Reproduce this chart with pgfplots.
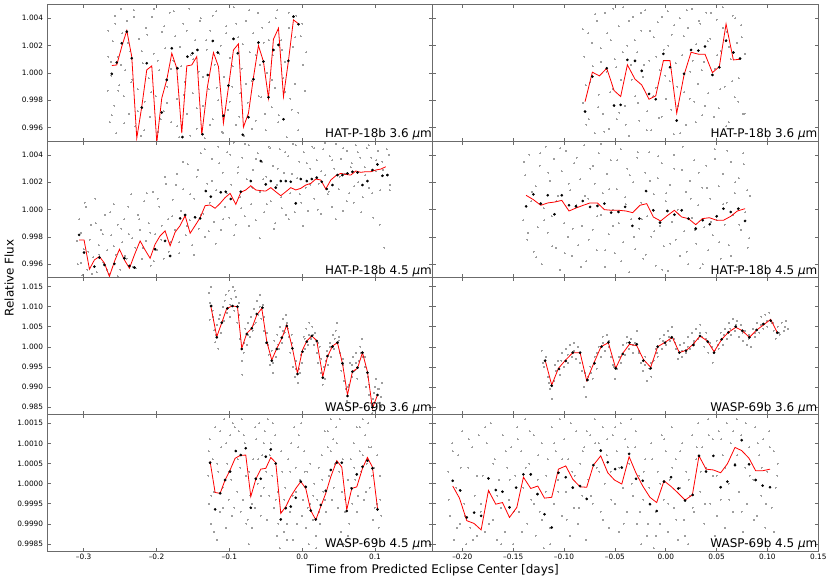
\documentclass[border=0pt]{standalone}
\usepackage{fontspec}
\setmainfont{DejaVu Sans}
\usepackage{pgfplots}
\pgfplotsset{compat=1.18}
\definecolor{spine}{gray}{0.42}
\definecolor{dotgray}{gray}{0.62}
\pgfplotsset{
  panel/.style={
    scale only axis, width=385.5bp, height=136.6bp,
    axis line style={spine, line width=0.9bp},
    every tick/.style={spine, line width=0.6bp},
    major tick length=3.5bp, tick align=inside,
    clip mode=individual,
    ticklabel style={font=\fontsize{7.4}{9}\selectfont, text=black},
    yticklabel style={inner sep=0pt, xshift=-4bp},
    xticklabel style={inner sep=0pt, yshift=-2.5bp},
    scaled ticks=false,
  },
  leftcol/.style={xmin=-0.350, xmax=0.1795, xtick={-0.3,-0.2,-0.1,0,0.1}},
  rightcol/.style={xmin=-0.229, xmax=0.15, xtick={-0.2,-0.15,-0.1,-0.05,0,0.05,0.1,0.15}},
  rowA/.style={ymin=0.995, ymax=1.005, ytick={0.996,0.998,1.000,1.002,1.004}},
  rowC/.style={ymin=0.98315, ymax=1.01722, ytick={0.985,0.990,0.995,1.000,1.005,1.010,1.015}},
  rowD/.style={ymin=0.998326, ymax=1.00172, ytick={0.9985,0.999,0.9995,1.0,1.0005,1.001,1.0015}},
  gpts/.style={only marks, color=dotgray, mark=*, mark size=0.5bp, mark options={draw=dotgray, fill=dotgray, line width=0pt}},
  bpts/.style={only marks, color=black, mark=*, mark size=1.15bp, mark options={draw=none, fill=black}},
  model/.style={red, line width=0.8bp, mark=none},
}
\newcommand{\plabel}[1]{\node[anchor=base east, inner sep=0pt, font=\fontsize{12}{14}\selectfont] at ([xshift=-0.8bp,yshift=3.3bp]rel axis cs:1,0) {#1};}
\begin{document}
\begin{tikzpicture}
% ---------------- Row 1 left: HAT-P-18b 3.6
\begin{axis}[panel, leftcol, rowA, at={(47.3bp,-4.6bp)}, anchor=north west,
  xticklabels={}, yticklabels={0.996,0.998,1.000,1.002,1.004}]
\addplot[gpts] coordinates {
(-0.267,0.99870) (-0.266,1.00310) (-0.264,0.99640) (-0.263,1.00080) (-0.262,0.99980) (-0.260,1.00230) (-0.258,0.99760) (-0.257,1.00420)
(-0.255,0.99560) (-0.253,1.00120) (-0.251,0.99910) (-0.249,1.00470) (-0.247,1.00290) (-0.245,0.99830) (-0.243,1.00020) (-0.240,1.00380)
(-0.238,0.99700) (-0.236,1.00160) (-0.233,0.99950) (-0.231,1.00460) (-0.229,0.99610) (-0.226,0.99880) (-0.224,1.00250) (-0.221,0.99540)
(-0.219,1.00070) (-0.216,0.99790) (-0.214,1.00330) (-0.211,0.99960) (-0.209,0.99680) (-0.206,1.00410) (-0.204,1.00140) (-0.201,0.99830)
(-0.198,0.99570) (-0.196,1.00020) (-0.193,1.00300) (-0.190,0.99720) (-0.188,1.00180) (-0.185,0.99900) (-0.182,1.00440) (-0.180,0.99640)
(-0.177,1.00090) (-0.174,1.00270) (-0.172,0.99810) (-0.169,0.99530) (-0.166,1.00050) (-0.163,1.00360) (-0.161,0.99930) (-0.158,0.99700)
(-0.155,1.00470) (-0.153,1.00130) (-0.150,0.99850) (-0.147,1.00240) (-0.145,0.99590) (-0.142,1.00010) (-0.139,1.00400) (-0.136,0.99760)
(-0.134,0.99520) (-0.131,1.00170) (-0.128,0.99880) (-0.126,1.00310) (-0.123,0.99660) (-0.120,1.00060) (-0.118,1.00450) (-0.115,0.99800)
(-0.112,1.00200) (-0.110,0.99570) (-0.107,0.99970) (-0.104,1.00340) (-0.102,0.99730) (-0.099,1.00110) (-0.096,0.99900) (-0.094,1.00480)
(-0.091,0.99620) (-0.088,1.00260) (-0.085,0.99850) (-0.083,1.00030) (-0.080,0.99540) (-0.077,1.00380) (-0.075,0.99780) (-0.072,1.00150)
(-0.069,0.99940) (-0.067,1.00290) (-0.064,0.99650) (-0.061,1.00440) (-0.058,1.00060) (-0.056,0.99820) (-0.053,1.00220) (-0.050,0.99580)
(-0.048,1.00000) (-0.045,1.00370) (-0.042,0.99750) (-0.040,1.00130) (-0.037,0.99890) (-0.034,1.00460) (-0.032,0.99690) (-0.029,1.00240)
(-0.026,0.99960) (-0.024,1.00080) (-0.021,0.99530) (-0.018,1.00330) (-0.016,0.99810) (-0.013,1.00190) (-0.010,0.99920) (-0.008,1.00420)
(-0.005,0.99710) (-0.002,1.00270) (0.001,1.00060) (0.004,0.99870) (0.006,1.00150)
};
\addplot[gpts] coordinates {
(-0.2665,1.0012) (-0.2615,0.9969) (-0.2565,1.0036) (-0.2525,0.9987) (-0.2485,1.0006) (-0.2445,0.9963) (-0.2395,1.0022) (-0.2345,0.9993)
(-0.2305,1.0041) (-0.2255,0.9972) (-0.2205,1.0016) (-0.2165,0.9958) (-0.2125,1.0028) (-0.2075,0.9986) (-0.2035,1.0047) (-0.1985,1.0009)
(-0.1945,0.9966) (-0.1895,1.0034) (-0.1855,0.9978) (-0.1805,1.0003) (-0.1765,1.0045) (-0.1715,0.9961) (-0.1675,1.0019) (-0.1625,0.9984)
(-0.1585,1.0031) (-0.1535,0.9954) (-0.1495,1.0010) (-0.1445,0.9974) (-0.1405,1.0038) (-0.1355,0.9997) (-0.1315,1.0024) (-0.1265,0.9962)
(-0.1225,1.0042) (-0.1175,0.9989) (-0.1135,1.0014) (-0.1085,0.9956) (-0.1045,1.0029) (-0.0995,0.9979) (-0.0955,1.0005) (-0.0905,1.0036)
(-0.0865,0.9968) (-0.0815,1.0021) (-0.0775,0.9992) (-0.0725,1.0046) (-0.0685,0.9959) (-0.0635,1.0013) (-0.0595,0.9983) (-0.0545,1.0033)
(-0.0505,0.9970) (-0.0455,1.0024) (-0.0415,0.9995) (-0.0365,1.0040) (-0.0325,0.9964) (-0.0275,1.0017) (-0.0235,0.9986) (-0.0185,1.0044)
(-0.0145,0.9973) (-0.0095,1.0026) (-0.0055,0.9958) (0.0005,1.0036)
};
\addplot[model] coordinates {
(-0.2614,1.00054) (-0.2546,1.00058) (-0.2477,1.00193) (-0.2408,1.0031) (-0.2340,1.00119) (-0.2271,0.99522) (-0.2202,0.99754)
(-0.2134,1.00022) (-0.2065,1.00051) (-0.1996,0.9949) (-0.1928,0.99815) (-0.1859,0.99949) (-0.1790,1.00144) (-0.1722,1.00034)
(-0.1653,0.99559) (-0.1584,1.00051) (-0.1516,1.00058) (-0.1447,1.00119) (-0.1378,0.99547) (-0.1300,0.9990) (-0.1218,1.00149)
(-0.1149,1.00046) (-0.1081,0.99632) (-0.1012,0.99895) (-0.0943,1.00168) (-0.0875,1.00212) (-0.0806,0.99603) (-0.0737,0.99705)
(-0.0668,0.99968) (-0.0600,1.0020) (-0.0531,1.00083) (-0.0462,0.99815) (-0.0394,1.00246) (-0.0325,1.00327) (-0.0256,0.99827)
(-0.0188,1.00088) (-0.0119,1.00388) (-0.0041,1.00356)
};
\addplot[bpts] coordinates {
(-0.2614,0.99993) (-0.2546,1.00076) (-0.2477,1.00217) (-0.2408,1.00302) (-0.2340,1.00107) (-0.2202,0.99746) (-0.2134,1.00071)
(-0.1928,0.9971) (-0.1859,0.99949) (-0.1790,1.0018) (-0.1713,1.00034) (-0.1644,0.9953) (-0.1575,1.00119) (-0.1506,1.00144)
(-0.1438,1.00168) (-0.1369,0.99551) (-0.1296,0.99985) (-0.1227,1.00234) (-0.1158,1.00149) (-0.1081,0.99686) (-0.1012,0.99907)
(-0.0943,1.00249) (-0.0884,1.00144) (-0.0815,0.99547) (-0.0737,0.99676) (-0.0668,0.99954) (-0.0600,1.00222) (-0.0531,1.00083)
(-0.0462,0.99822) (-0.0394,1.00168) (-0.0325,1.00205) (-0.0256,0.99661) (-0.0188,1.00088) (-0.0119,1.00412) (-0.0050,1.00356)
};
\plabel{HAT-P-18b 3.6 \textit{μ}m}
\end{axis}
% ---------------- Row 1 right
\begin{axis}[panel, rightcol, rowA, at={(432.8bp,-4.6bp)}, anchor=north west,
  xticklabels={}, yticklabels={}]
\addplot[gpts] coordinates {
(-0.081,0.99780) (-0.080,1.00120) (-0.078,0.99620) (-0.076,1.00290) (-0.074,0.99930) (-0.072,1.00050) (-0.070,0.99560) (-0.068,1.00380)
(-0.066,0.99840) (-0.064,1.00180) (-0.062,0.99700) (-0.060,1.00440) (-0.058,1.00010) (-0.056,0.99590) (-0.054,1.00240) (-0.052,0.99880)
(-0.050,1.00100) (-0.048,0.99660) (-0.046,1.00340) (-0.044,0.99950) (-0.042,1.00480) (-0.040,0.99760) (-0.038,1.00200) (-0.036,0.99540)
(-0.034,1.00060) (-0.032,1.00410) (-0.030,0.99830) (-0.028,1.00150) (-0.026,0.99650) (-0.024,1.00310) (-0.022,0.99970) (-0.020,1.00460)
(-0.018,0.99720) (-0.016,1.00090) (-0.014,0.99580) (-0.012,1.00260) (-0.010,0.99890) (-0.008,1.00370) (-0.006,1.00020) (-0.004,0.99680)
(-0.002,1.00170) (0.000,0.99810) (0.002,1.00450) (0.004,0.99940) (0.006,1.00280) (0.008,0.99550) (0.010,1.00070) (0.012,0.99760)
(0.014,1.00400) (0.016,1.00130) (0.018,0.99860) (0.020,0.99620) (0.022,1.00330) (0.024,1.00010) (0.026,1.00470) (0.028,0.99790)
(0.030,1.00210) (0.032,0.99920) (0.034,1.00360) (0.036,0.99690) (0.038,1.00080) (0.040,1.00440) (0.042,0.99850) (0.044,1.00250)
(0.046,0.99580) (0.048,1.00030) (0.050,1.00390) (0.052,0.99740) (0.054,1.00160) (0.056,1.00480) (0.058,0.99900) (0.060,1.00300)
(0.062,0.99640) (0.064,1.00100) (0.066,1.00420) (0.068,0.99820) (0.070,1.00220) (0.072,0.99960) (0.074,1.00350) (0.076,0.99700)
(0.078,1.00140)
};
\addplot[gpts] coordinates {
(-0.0815,1.0032) (-0.0785,0.9991) (-0.0755,0.9966) (-0.0725,1.0022) (-0.0695,1.0043) (-0.0665,0.9975) (-0.0635,1.0008) (-0.0605,0.9957)
(-0.0575,1.0029) (-0.0545,0.9986) (-0.0515,1.0047) (-0.0485,1.0004) (-0.0455,0.9971) (-0.0425,1.0015) (-0.0395,0.9962) (-0.0365,1.0038)
(-0.0335,0.9995) (-0.0305,1.0024) (-0.0275,0.9978) (-0.0245,1.0044) (-0.0215,1.0006) (-0.0185,0.9958) (-0.0155,1.0031) (-0.0125,0.9983)
(-0.0095,1.0012) (-0.0065,0.9967) (-0.0035,1.0041) (-0.0005,0.9998) (0.0025,1.0020) (0.0055,0.9973) (0.0085,1.0035) (0.0115,0.9990)
(0.0145,0.9956) (0.0175,1.0027) (0.0205,1.0046) (0.0235,0.9981) (0.0265,1.0009) (0.0295,0.9964) (0.0325,1.0038) (0.0355,1.0002)
(0.0385,0.9976) (0.0415,1.0023) (0.0445,1.0044) (0.0475,0.9968) (0.0505,1.0013) (0.0535,0.9988) (0.0565,1.0033) (0.0595,0.9961)
(0.0625,1.0019) (0.0655,0.9994) (0.0685,1.0040) (0.0715,0.9979) (0.0745,1.0026) (0.0775,0.9970)
};
\addplot[model] coordinates {
(-0.0793,0.9979) (-0.0721,1.00005) (-0.0652,0.99978) (-0.0580,1.00034) (-0.0508,0.99871) (-0.0443,0.99827) (-0.0377,1.00059)
(-0.0302,0.99954) (-0.0236,0.99912) (-0.0164,0.99807) (-0.0098,0.99832) (-0.0023,1.0009) (0.0042,1.0009) (0.0108,0.99705)
(0.0180,0.99985) (0.0249,1.00151) (0.0321,1.00137) (0.0386,1.00137) (0.0459,1.00002) (0.0527,1.00046) (0.0593,1.00358)
(0.0665,1.00095) (0.0731,1.001)
};
\addplot[bpts] coordinates {
(-0.0793,0.99717) (-0.0721,0.99973) (-0.0580,1.00034) (-0.0508,0.99761) (-0.0443,0.99766) (-0.0377,1.00095) (-0.0302,1.00088)
(-0.0236,1.00015) (-0.0164,0.99846) (-0.0098,0.99807) (-0.0023,1.00139) (0.0042,1.00041) (0.0108,0.99651) (0.0180,0.99993)
(0.0249,1.00168) (0.0321,1.00163) (0.0386,1.00193) (0.0459,0.99985) (0.0527,1.00041) (0.0593,1.00236) (0.0665,1.00149)
(0.0731,1.00105)
};
\plabel{HAT-P-18b 3.6 \textit{μ}m}
\end{axis}
% ---------------- Row 2 left: HAT-P-18b 4.5
\begin{axis}[panel, leftcol, rowA, at={(47.3bp,-141.2bp)}, anchor=north west,
  xticklabels={}, yticklabels={0.996,0.998,1.000,1.002,1.004}]
\addplot[gpts] coordinates {
(-0.308,0.99600) (-0.306,0.99930) (-0.304,0.99830) (-0.302,0.99520) (-0.300,0.99710) (-0.297,1.00020) (-0.295,0.99560) (-0.292,0.99780)
(-0.290,0.99890) (-0.287,0.99650) (-0.284,1.00080) (-0.282,0.99540) (-0.279,0.99740) (-0.276,0.99850) (-0.273,0.99610) (-0.271,0.99960)
(-0.268,0.99700) (-0.265,0.99530) (-0.262,0.99810) (-0.259,1.00040) (-0.256,0.99670) (-0.253,0.99890) (-0.250,0.99560) (-0.247,0.99760)
(-0.244,0.99930) (-0.241,0.99640) (-0.238,0.99820) (-0.235,1.00110) (-0.232,0.99580) (-0.229,0.99720) (-0.226,0.99960) (-0.223,0.99850)
(-0.220,0.99640) (-0.217,1.00060) (-0.214,0.99770) (-0.211,0.99900) (-0.208,0.99590) (-0.205,1.00130) (-0.202,0.99820) (-0.199,0.99700)
(-0.196,1.00020) (-0.193,0.99880) (-0.190,0.99640) (-0.187,1.00190) (-0.184,0.99930) (-0.181,0.99760) (-0.178,1.00070) (-0.175,0.99850)
(-0.172,1.00260) (-0.169,0.99680) (-0.166,0.99990) (-0.163,1.00150) (-0.160,0.99810) (-0.157,1.00330) (-0.154,0.99920) (-0.151,0.99740)
(-0.148,1.00080) (-0.145,1.00240) (-0.142,0.99860) (-0.139,1.00410) (-0.136,0.99970) (-0.133,0.99800) (-0.130,1.00190) (-0.127,1.00050)
(-0.124,1.00370) (-0.121,0.99910) (-0.118,1.00140) (-0.115,1.00460) (-0.112,0.99850) (-0.109,1.00270) (-0.106,1.00020) (-0.103,1.00420)
(-0.100,0.99940) (-0.097,1.00180) (-0.094,1.00490) (-0.091,0.99890) (-0.088,1.00310) (-0.085,1.00090) (-0.082,1.00380) (-0.079,0.99950)
(-0.076,1.00220) (-0.073,1.00470) (-0.070,1.00040) (-0.067,1.00290) (-0.064,0.99920) (-0.061,1.00410) (-0.058,1.00130) (-0.055,1.00350)
(-0.052,0.99980) (-0.049,1.00240) (-0.046,1.00460) (-0.043,1.00060) (-0.040,1.00320) (-0.037,0.99900) (-0.034,1.00180) (-0.031,1.00440)
(-0.028,1.00010) (-0.025,1.00270) (-0.022,0.99960) (-0.019,1.00390) (-0.016,1.00120) (-0.013,1.00480) (-0.010,0.99980) (-0.007,1.00230)
(-0.004,1.00350) (-0.001,1.00050) (0.002,1.00420) (0.005,1.00160) (0.008,0.99990) (0.011,1.00300) (0.014,1.00460) (0.017,1.00080)
(0.020,1.00360) (0.023,1.00190) (0.026,0.99970) (0.029,1.00440) (0.032,1.00250) (0.035,1.00110) (0.038,1.00390) (0.041,1.00020)
(0.044,1.00300) (0.047,1.00480) (0.050,1.00150) (0.053,1.00370) (0.056,0.99990) (0.059,1.00260) (0.062,1.00430) (0.065,1.00120)
(0.068,1.00340) (0.071,1.00050) (0.074,1.00470) (0.077,1.00200) (0.080,1.00380) (0.083,1.00090) (0.086,1.00310) (0.089,1.00450)
(0.092,1.00160) (0.095,1.00380) (0.098,0.99940) (0.101,1.00280) (0.104,1.00430) (0.107,1.00140) (0.110,1.00350) (0.113,0.99720)
(0.116,1.00250) (0.119,1.00400) (0.121,1.00180)
};
\addplot[gpts] coordinates {
(-0.3095,0.9977) (-0.3035,0.9961) (-0.2985,1.0005) (-0.2935,0.9969) (-0.2885,0.9953) (-0.2835,0.9990) (-0.2785,0.9967) (-0.2735,0.9982)
(-0.2685,0.9956) (-0.2635,0.9998) (-0.2585,0.9973) (-0.2535,0.9951) (-0.2485,0.9986) (-0.2435,0.9966) (-0.2385,1.0002) (-0.2335,0.9979)
(-0.2285,0.9957) (-0.2235,0.9993) (-0.2185,0.9972) (-0.2135,1.0012) (-0.2085,0.9983) (-0.2035,0.9962) (-0.1985,1.0008) (-0.1935,0.9978)
(-0.1885,1.0024) (-0.1835,0.9969) (-0.1785,0.9995) (-0.1735,1.0018) (-0.1685,0.9976) (-0.1635,1.0035) (-0.1585,0.9988) (-0.1535,1.0011)
(-0.1485,0.9967) (-0.1435,1.0029) (-0.1385,0.9996) (-0.1335,1.0044) (-0.1285,0.9984) (-0.1235,1.0021) (-0.1185,0.9975) (-0.1135,1.0034)
(-0.1085,0.9993) (-0.1035,1.0012) (-0.0985,1.0040) (-0.0935,0.9981) (-0.0885,1.0027) (-0.0835,1.0001) (-0.0785,1.0048) (-0.0735,0.9988)
(-0.0685,1.0016) (-0.0635,1.0037) (-0.0585,0.9979) (-0.0535,1.0022) (-0.0485,1.0004) (-0.0435,1.0045) (-0.0385,0.9986) (-0.0335,1.0030)
(-0.0285,1.0009) (-0.0235,1.0042) (-0.0185,0.9993) (-0.0135,1.0026) (-0.0085,1.0047) (-0.0035,1.0011) (0.0015,0.9988) (0.0065,1.0034)
(0.0115,1.0018) (0.0165,1.0045) (0.0215,1.0000) (0.0265,1.0028) (0.0315,1.0049) (0.0365,1.0013) (0.0415,1.0036) (0.0465,0.9993)
(0.0515,1.0024) (0.0565,1.0045) (0.0615,1.0006) (0.0665,1.0031) (0.0715,1.0017) (0.0765,1.0042) (0.0815,0.9998) (0.0865,1.0025)
(0.0915,1.0047) (0.0965,1.0012) (0.1015,1.0036) (0.1065,0.9989) (0.1115,1.0029) (0.1165,1.0044) (0.1205,1.0014)
};
\addplot[model] coordinates {
(-0.3063,0.99777) (-0.2995,0.99777) (-0.2921,0.99563) (-0.2853,0.99631) (-0.2784,0.99656) (-0.2715,0.99607) (-0.2647,0.9951)
(-0.2578,0.99619) (-0.2509,0.99709) (-0.2441,0.99631) (-0.2372,0.9957) (-0.2303,0.99668) (-0.2225,0.9977) (-0.2157,0.99704)
(-0.2088,0.99643) (-0.2019,0.99746) (-0.1951,0.99807) (-0.1882,0.99843) (-0.1813,0.99734) (-0.1745,0.99833) (-0.1676,0.99882)
(-0.1607,0.99955) (-0.1538,0.99826) (-0.1470,0.99882) (-0.1401,0.99940) (-0.1332,1.00028) (-0.1264,1.00033) (-0.1195,1.00009)
(-0.1126,1.00045) (-0.1058,1.00087) (-0.0989,1.00118) (-0.0911,1.00038) (-0.0842,1.00126) (-0.0774,1.00143) (-0.0705,1.00174)
(-0.0636,1.00143) (-0.0568,1.00138) (-0.0499,1.00135) (-0.0430,1.0016) (-0.0362,1.0013) (-0.0293,1.00101) (-0.0224,1.0013)
(-0.0156,1.0016) (-0.0087,1.00143) (-0.0018,1.00155) (0.0050,1.00179) (0.0119,1.00191) (0.0188,1.00223) (0.0256,1.00216)
(0.0325,1.0015) (0.0394,1.00216) (0.0462,1.00247) (0.0531,1.00264) (0.0600,1.00257) (0.0668,1.00252) (0.0737,1.00282)
(0.0806,1.00272) (0.0874,1.00277) (0.0943,1.00277) (0.1012,1.00289) (0.1081,1.00296) (0.1149,1.00313)
};
\addplot[bpts] coordinates {
(-0.3063,0.99814) (-0.2995,0.99685) (-0.2853,0.99582) (-0.2784,0.99648) (-0.2715,0.99594) (-0.2578,0.99602) (-0.2441,0.99643)
(-0.2372,0.99587) (-0.2303,0.99575) (-0.2019,0.99709) (-0.1882,0.9977) (-0.1813,0.9966) (-0.1676,0.99935) (-0.1607,0.9996)
(-0.1470,0.99943) (-0.1401,0.99935) (-0.1323,1.00135) (-0.1254,1.00094) (-0.1117,1.00126) (-0.1049,1.0013) (-0.0980,1.00077)
(-0.0842,1.0013) (-0.0705,1.00208) (-0.0568,1.00355) (-0.0499,1.00184) (-0.0430,1.00208) (-0.0362,1.0016) (-0.0293,1.00208)
(-0.0224,1.00208) (-0.0156,1.00203) (-0.0087,1.00045) (-0.0018,1.00223) (0.0064,1.00208) (0.0133,1.00223) (0.0201,1.00233)
(0.0270,1.00203) (0.0339,1.0015) (0.0417,1.00179) (0.0485,1.00252) (0.0554,1.00252) (0.0623,1.00264) (0.0691,1.00276)
(0.0760,1.00271) (0.0829,1.00179) (0.0897,1.00208) (0.0966,1.00289) (0.1035,1.0033) (0.1103,1.00247) (0.1172,1.00252)
};
\plabel{HAT-P-18b 4.5 \textit{μ}m}
\end{axis}
% ---------------- Row 2 right
\begin{axis}[panel, rightcol, rowA, at={(432.8bp,-141.2bp)}, anchor=north west,
  xticklabels={}, yticklabels={}]
\addplot[gpts] coordinates {
(-0.140,0.99920) (-0.138,1.00250) (-0.136,0.99780) (-0.134,1.00400) (-0.132,1.00060) (-0.130,0.99690) (-0.128,1.00170) (-0.126,0.99870)
(-0.124,1.00320) (-0.122,0.99600) (-0.120,1.00010) (-0.118,1.00460) (-0.116,0.99830) (-0.114,1.00210) (-0.112,0.99950) (-0.110,1.00370)
(-0.108,0.99720) (-0.106,1.00100) (-0.104,0.99560) (-0.102,1.00280) (-0.100,0.99900) (-0.098,1.00430) (-0.096,0.99800) (-0.094,1.00140)
(-0.092,0.99660) (-0.090,1.00340) (-0.088,1.00030) (-0.086,0.99740) (-0.084,1.00220) (-0.082,0.99880) (-0.080,1.00470) (-0.078,0.99620)
(-0.076,1.00080) (-0.074,1.00300) (-0.072,0.99850) (-0.070,1.00190) (-0.068,0.99700) (-0.066,1.00410) (-0.064,0.99960) (-0.062,1.00120)
(-0.060,0.99580) (-0.058,1.00260) (-0.056,0.99820) (-0.054,1.00360) (-0.052,1.00000) (-0.050,0.99680) (-0.048,1.00150) (-0.046,0.99900)
(-0.044,1.00440) (-0.042,0.99760) (-0.040,1.00090) (-0.038,1.00300) (-0.036,0.99540) (-0.034,0.99930) (-0.032,1.00200) (-0.030,0.99710)
(-0.028,1.00380) (-0.026,0.99860) (-0.024,1.00050) (-0.022,0.99640) (-0.020,1.00270) (-0.018,0.99950) (-0.016,1.00420) (-0.014,0.99800)
(-0.012,1.00110) (-0.010,0.99590) (-0.008,1.00230) (-0.006,0.99880) (-0.004,1.00340) (-0.002,0.99730) (0.000,1.00060) (0.002,0.99550)
(0.004,1.00180) (0.006,0.99910) (0.008,1.00400) (0.010,0.99780) (0.012,1.00000) (0.014,0.99660) (0.016,1.00290) (0.018,0.99840)
(0.020,1.00130) (0.022,0.99600) (0.024,1.00210) (0.026,0.99940) (0.028,1.00360) (0.030,0.99750) (0.032,1.00030) (0.034,0.99570)
(0.036,1.00160) (0.038,0.99870) (0.040,1.00320) (0.042,0.99700) (0.044,1.00080) (0.046,0.99810) (0.048,1.00440) (0.050,0.99920)
(0.052,1.00170) (0.054,0.99640) (0.056,1.00260) (0.058,0.99890) (0.060,1.00050) (0.062,0.99740) (0.064,1.00350) (0.066,0.99960)
(0.068,1.00120) (0.070,0.99580) (0.072,1.00230) (0.074,0.99850) (0.076,1.00410) (0.078,0.99980) (0.080,1.00140) (0.082,0.99790)
};
\addplot[gpts] coordinates {
(-0.1395,1.0035) (-0.1355,0.9983) (-0.1315,1.0013) (-0.1275,0.9965) (-0.1235,1.0041) (-0.1195,0.9992) (-0.1155,1.0027) (-0.1115,0.9973)
(-0.1075,1.0006) (-0.1035,1.0045) (-0.0995,0.9968) (-0.0955,1.0019) (-0.0915,0.9986) (-0.0875,1.0038) (-0.0835,0.9958) (-0.0795,1.0010)
(-0.0755,0.9978) (-0.0715,1.0032) (-0.0675,0.9995) (-0.0635,1.0048) (-0.0595,0.9970) (-0.0555,1.0015) (-0.0515,0.9988) (-0.0475,1.0036)
(-0.0435,0.9962) (-0.0395,1.0004) (-0.0355,1.0025) (-0.0315,0.9980) (-0.0275,1.0042) (-0.0235,0.9993) (-0.0195,0.9967) (-0.0155,1.0021)
(-0.0115,0.9984) (-0.0075,1.0039) (-0.0035,0.9956) (0.0005,1.0012) (0.0045,0.9975) (0.0085,1.0030) (0.0125,0.9997) (0.0165,1.0046)
(0.0205,0.9969) (0.0245,1.0008) (0.0285,0.9985) (0.0325,1.0027) (0.0365,0.9960) (0.0405,1.0016) (0.0445,0.9991) (0.0485,1.0037)
(0.0525,0.9976) (0.0565,1.0004) (0.0605,1.0043) (0.0645,0.9966) (0.0685,1.0020) (0.0725,0.9989) (0.0765,1.0033) (0.0805,0.9972)
(0.0830,1.0010)
};
\addplot[model] coordinates {
(-0.1373,1.00104) (-0.1301,1.00072) (-0.1229,1.00031) (-0.1160,1.00048) (-0.1088,1.00055) (-0.1022,1.00067) (-0.0951,0.99989)
(-0.0882,1.00011) (-0.0810,1.00031) (-0.0744,1.00048) (-0.0672,1.00048) (-0.0603,0.99999) (-0.0531,0.99994) (-0.0459,0.99994)
(-0.0390,0.99989) (-0.0325,0.99977) (-0.0253,1.00031) (-0.0187,1.00043) (-0.0122,0.99945) (-0.0050,0.99916) (0.0020,0.99958)
(0.0085,0.99994) (0.0157,0.99945) (0.0223,0.99933) (0.0295,0.99889) (0.0360,0.99933) (0.0429,0.9994) (0.0501,0.99921)
(0.0567,0.99921) (0.0639,0.9995) (0.0704,0.99989) (0.0780,1.00006)
};
\addplot[bpts] coordinates {
(-0.1373,1.00023) (-0.1301,1.00111) (-0.1229,1.00043) (-0.1160,1.00104) (-0.1094,0.99965) (-0.1022,1.00104) (-0.0951,1.00031)
(-0.0882,1.00023) (-0.0816,1.00062) (-0.0744,1.00019) (-0.0672,1.00026) (-0.0603,1.00043) (-0.0537,0.99977) (-0.0465,0.99982)
(-0.0399,1.00019) (-0.0328,0.9988) (-0.0259,0.99933) (-0.0193,1.00135) (-0.0122,0.99994) (-0.0056,0.99904) (0.0016,0.99989)
(0.0085,0.99962) (0.0157,0.99994) (0.0223,0.99933) (0.0295,0.9986) (0.0364,0.99921) (0.0433,0.99892) (0.0501,0.9995)
(0.0567,1.00006) (0.0639,0.99982) (0.0714,1.00006) (0.0780,0.99916)
};
\plabel{HAT-P-18b 4.5 \textit{μ}m}
\end{axis}
% ---------------- Row 3 left: WASP-69b 3.6
\begin{axis}[panel, leftcol, rowC, at={(47.3bp,-277.8bp)}, anchor=north west,
  xticklabels={}, yticklabels={0.985,0.990,0.995,1.000,1.005,1.010,1.015}]
\addplot[gpts] coordinates {
(-0.128,1.0135) (-0.127,1.0068) (-0.125,1.0150) (-0.123,1.0090) (-0.121,1.0042) (-0.119,1.0012) (-0.117,1.0055) (-0.115,0.9995)
(-0.113,1.0080) (-0.111,1.0035) (-0.109,1.0100) (-0.107,1.0065) (-0.105,1.0130) (-0.103,1.0085) (-0.101,1.0140) (-0.099,1.0075)
(-0.097,1.0120) (-0.095,1.0150) (-0.093,1.0090) (-0.091,1.0125) (-0.089,1.0060) (-0.087,1.0110) (-0.085,1.0020) (-0.083,0.9965)
(-0.082,0.9930) (-0.080,1.0010) (-0.078,1.0045) (-0.076,1.0005) (-0.074,1.0060) (-0.072,1.0025) (-0.070,1.0075) (-0.068,1.0040)
(-0.066,1.0095) (-0.064,1.0060) (-0.062,1.0115) (-0.060,1.0080) (-0.058,1.0130) (-0.056,1.0070) (-0.054,1.0105) (-0.052,1.0040)
(-0.050,1.0010) (-0.048,1.0035) (-0.046,0.9980) (-0.044,0.9955) (-0.042,0.9990) (-0.040,0.9935) (-0.038,1.0015) (-0.036,0.9975)
(-0.034,1.0030) (-0.032,0.9995) (-0.030,1.0050) (-0.028,1.0010) (-0.026,1.0070) (-0.024,1.0035) (-0.022,1.0080) (-0.020,1.0045)
(-0.018,1.0025) (-0.016,0.9985) (-0.014,1.0010) (-0.012,0.9950) (-0.010,0.9925) (-0.008,0.9965) (-0.006,0.9910) (-0.004,0.9945)
(-0.002,0.9980) (0.000,0.9960) (0.002,1.0025) (0.004,0.9995) (0.006,1.0045) (0.008,1.0005) (0.010,1.0060) (0.012,1.0020)
(0.014,1.0050) (0.016,1.0005) (0.018,1.0035) (0.020,0.9985) (0.022,0.9960) (0.024,1.0000) (0.026,0.9935) (0.028,0.9905)
(0.030,0.9950) (0.032,0.9920) (0.034,0.9990) (0.036,0.9955) (0.038,1.0010) (0.040,0.9975) (0.042,1.0030) (0.044,0.9995)
(0.046,1.0040) (0.048,1.0060) (0.050,1.0015) (0.052,0.9985) (0.054,0.9940) (0.056,0.9970) (0.058,0.9915) (0.060,0.9895)
(0.062,0.9865) (0.064,0.9905) (0.066,0.9960) (0.068,0.9925) (0.070,0.9975) (0.072,0.9940) (0.074,0.9985) (0.076,0.9920)
(0.078,0.9965) (0.080,1.0000) (0.082,1.0020) (0.084,0.9975) (0.086,0.9950) (0.088,0.9900) (0.090,0.9925) (0.092,0.9880)
(0.094,0.9860) (0.096,0.9835) (0.098,0.9870) (0.100,0.9900) (0.102,0.9920) (0.104,0.9860) (0.106,0.9895) (0.108,0.9850)
(0.110,0.9910)
};
\addplot[gpts] coordinates {
(-0.1265,1.0110) (-0.1225,1.0075) (-0.1185,1.0030) (-0.1145,1.0070) (-0.1065,1.0115) (-0.0985,1.0105) (-0.0925,1.0140) (-0.0865,1.0080)
(-0.0805,0.9985) (-0.0745,1.0030) (-0.0665,1.0055) (-0.0585,1.0100) (-0.0525,1.0075) (-0.0465,1.0005) (-0.0405,0.9960) (-0.0325,1.0005)
(-0.0265,1.0040) (-0.0205,1.0060) (-0.0145,1.0030) (-0.0085,0.9945) (-0.0025,0.9935) (0.0035,1.0020) (0.0095,1.0030) (0.0155,1.0030)
(0.0215,1.0010) (0.0265,0.9970) (0.0325,0.9965) (0.0385,1.0000) (0.0445,1.0020) (0.0505,1.0025) (0.0565,0.9955) (0.0625,0.9900)
(0.0685,0.9955) (0.0745,0.9960) (0.0805,0.9985) (0.0865,0.9975) (0.0925,0.9905) (0.0985,0.9885) (0.1045,0.9895) (0.1085,0.9875)
};
\addplot[model] coordinates {
(-0.1255,1.01019) (-0.1172,1.00254) (-0.1103,1.00603) (-0.1035,1.0096) (-0.0957,1.01019) (-0.0888,1.01002) (-0.0829,0.99962)
(-0.0760,1.00337) (-0.0691,1.00462) (-0.0623,1.00794) (-0.0554,1.0096) (-0.0485,1.00129) (-0.0417,0.99672) (-0.0348,0.99962)
(-0.0279,1.00212) (-0.0211,1.00545) (-0.0133,0.99962) (-0.0064,0.9934) (0.0005,0.99921) (0.0064,1.00146) (0.0133,1.00271)
(0.0201,1.00154) (0.0284,0.99256) (0.0348,0.99755) (0.0417,1.00021) (0.0485,1.00104) (0.0554,0.99589) (0.0623,0.98799)
(0.0691,0.99381) (0.0760,0.99464) (0.0829,0.99855) (0.0897,0.99381) (0.0966,0.98467) (0.1035,0.98799)
};
\addplot[bpts] coordinates {
(-0.1250,1.01019) (-0.1172,1.00237) (-0.1103,1.00603) (-0.1026,1.0096) (-0.0957,1.01019) (-0.0888,1.01002) (-0.0829,0.99945)
(-0.0760,1.0032) (-0.0691,1.00462) (-0.0623,1.00819) (-0.0545,1.00977) (-0.0485,1.00104) (-0.0417,0.99655) (-0.0348,0.99945)
(-0.0279,1.00229) (-0.0211,1.0052) (-0.0133,0.99962) (-0.0064,0.99323) (0.0005,0.99879) (0.0064,1.00129) (0.0133,1.00271)
(0.0201,1.00146) (0.0284,0.99231) (0.0348,0.99771) (0.0417,1.00005) (0.0485,1.00104) (0.0554,0.99589) (0.0623,0.98774)
(0.0691,0.99381) (0.0760,0.99481) (0.0829,0.99855) (0.0897,0.99356) (0.0966,0.98492) (0.1035,0.98799)
};
\plabel{WASP-69b 3.6 \textit{μ}m}
\end{axis}
% ---------------- Row 3 right
\begin{axis}[panel, rightcol, rowC, at={(432.8bp,-277.8bp)}, anchor=north west,
  xticklabels={}, yticklabels={}]
\addplot[gpts] coordinates {
(-0.122,0.9990) (-0.120,0.9950) (-0.118,0.9975) (-0.116,0.9925) (-0.114,0.9895) (-0.112,0.9870) (-0.110,0.9915) (-0.108,0.9940)
(-0.106,0.9965) (-0.104,0.9930) (-0.102,0.9985) (-0.100,0.9950) (-0.098,0.9995) (-0.096,0.9960) (-0.094,1.0005) (-0.092,0.9975)
(-0.090,1.0010) (-0.088,0.9970) (-0.086,1.0000) (-0.084,0.9960) (-0.082,0.9940) (-0.080,0.9900) (-0.078,0.9875) (-0.076,0.9925)
(-0.074,0.9950) (-0.072,0.9920) (-0.070,0.9975) (-0.068,0.9945) (-0.066,1.0000) (-0.064,0.9975) (-0.062,1.0025) (-0.060,0.9990)
(-0.058,1.0030) (-0.056,1.0000) (-0.054,0.9975) (-0.052,0.9955) (-0.050,0.9920) (-0.048,0.9945) (-0.046,0.9975) (-0.044,0.9960)
(-0.042,1.0005) (-0.040,0.9980) (-0.038,1.0025) (-0.036,0.9995) (-0.034,1.0020) (-0.032,0.9985) (-0.030,1.0010) (-0.028,1.0040)
(-0.026,0.9985) (-0.024,0.9960) (-0.022,0.9940) (-0.020,0.9975) (-0.018,0.9915) (-0.016,0.9945) (-0.014,0.9925) (-0.012,0.9965)
(-0.010,0.9995) (-0.008,0.9975) (-0.006,1.0020) (-0.004,0.9995) (-0.002,1.0030) (0.000,1.0005) (0.002,1.0040) (0.004,1.0015)
(0.006,1.0050) (0.008,1.0020) (0.010,0.9995) (0.012,0.9970) (0.014,1.0005) (0.016,0.9975) (0.018,1.0010) (0.020,0.9985)
(0.022,1.0025) (0.024,0.9995) (0.026,1.0035) (0.028,1.0010) (0.030,1.0045) (0.032,1.0020) (0.034,1.0055) (0.036,1.0025)
(0.038,1.0000) (0.040,1.0035) (0.042,0.9985) (0.044,1.0010) (0.046,0.9960) (0.048,0.9990) (0.050,1.0015) (0.052,0.9995)
(0.054,1.0035) (0.056,1.0005) (0.058,1.0045) (0.060,1.0020) (0.062,1.0060) (0.064,1.0030) (0.066,1.0070) (0.068,1.0040)
(0.070,1.0065) (0.072,1.0025) (0.074,1.0055) (0.076,1.0015) (0.078,1.0040) (0.080,1.0005) (0.082,1.0030) (0.084,1.0000)
(0.086,1.0045) (0.088,1.0025) (0.090,1.0060) (0.092,1.0035) (0.094,1.0075) (0.096,1.0045) (0.098,1.0080) (0.100,1.0050)
(0.102,1.0085) (0.104,1.0060) (0.106,1.0040) (0.108,1.0020) (0.110,1.0050) (0.112,1.0030) (0.114,1.0060) (0.116,1.0040)
(0.118,1.0065) (0.120,1.0045)
};
\addplot[gpts] coordinates {
(-0.1205,0.9960) (-0.1145,0.9910) (-0.1085,0.9955) (-0.1025,0.9965) (-0.0965,0.9980) (-0.0905,0.9990) (-0.0845,0.9985) (-0.0795,0.9935)
(-0.0735,0.9935) (-0.0675,0.9985) (-0.0615,1.0010) (-0.0555,1.0015) (-0.0505,0.9950) (-0.0445,0.9975) (-0.0385,1.0010) (-0.0325,1.0005)
(-0.0265,0.9990) (-0.0205,0.9955) (-0.0145,0.9960) (-0.0085,0.9985) (-0.0025,1.0015) (0.0035,1.0025) (0.0095,1.0010) (0.0155,0.9990)
(0.0215,1.0000) (0.0275,1.0015) (0.0335,1.0035) (0.0395,1.0020) (0.0455,1.0000) (0.0515,1.0005) (0.0575,1.0030) (0.0635,1.0045)
(0.0695,1.0055) (0.0755,1.0035) (0.0815,1.0020) (0.0875,1.0035) (0.0935,1.0055) (0.0995,1.0065) (0.1055,1.0060) (0.1115,1.0035)
(0.1175,1.0050)
};
\addplot[model] coordinates {
(-0.1186,0.99672) (-0.1121,0.99048) (-0.1055,0.99464) (-0.0990,0.99655) (-0.0914,0.99855) (-0.0842,0.99855) (-0.0777,0.99156)
(-0.0705,0.99605) (-0.0636,1.00005) (-0.0564,1.00104) (-0.0492,0.99464) (-0.0423,0.99838) (-0.0357,1.00063) (-0.0285,1.0003)
(-0.0220,0.99688) (-0.0148,0.99489) (-0.0079,1.00005) (-0.0007,1.00112) (0.0065,1.00237) (0.0134,0.99855) (0.0206,0.99921)
(0.0272,1.00071) (0.0337,1.0027) (0.0409,1.00146) (0.0475,0.9988) (0.0550,1.00187) (0.0616,1.00362) (0.0688,1.00486)
(0.0753,1.00403) (0.0822,1.00237) (0.0894,1.0042) (0.0960,1.00545) (0.1032,1.00686) (0.1097,1.00353)
};
\addplot[bpts] coordinates {
(-0.1186,0.99655) (-0.1121,0.99032) (-0.1049,0.99447) (-0.0983,0.99647) (-0.0914,0.99855) (-0.0842,0.99855) (-0.0770,0.99173)
(-0.0701,0.99589) (-0.0630,1.00005) (-0.0564,1.00112) (-0.0492,0.99464) (-0.0423,0.99821) (-0.0357,1.00104) (-0.0285,1.00063)
(-0.0220,0.99655) (-0.0148,0.99464) (-0.0079,1.00005) (-0.0007,1.00104) (0.0059,1.00237) (0.0134,0.99855) (0.0199,0.99904)
(0.0272,1.00046) (0.0337,1.0027) (0.0413,1.00129) (0.0475,0.99855) (0.0550,1.00187) (0.0616,1.00362) (0.0688,1.00503)
(0.0753,1.00403) (0.0822,1.00237) (0.0894,1.0042) (0.0960,1.00569) (0.1032,1.00652) (0.1097,1.00353)
};
\plabel{WASP-69b 3.6 \textit{μ}m}
\end{axis}
% ---------------- Row 4 left: WASP-69b 4.5
\begin{axis}[panel, leftcol, rowD, at={(47.3bp,-414.4bp)}, anchor=north west,
  xticklabels={–0.3,–0.2,–0.1,0.0,0.1},
  yticklabels={0.9985,0.9990,0.9995,1.0000,1.0005,1.0010,1.0015}]
\addplot[gpts] coordinates {
(-0.129,1.0002) (-0.128,0.9995) (-0.127,1.0011) (-0.125,0.9990) (-0.123,1.0006) (-0.121,0.9998) (-0.119,1.0014) (-0.117,0.9986)
(-0.115,1.0003) (-0.113,0.9993) (-0.111,1.0009) (-0.109,0.9999) (-0.107,1.0016) (-0.105,0.9989) (-0.103,1.0005) (-0.101,0.9996)
(-0.099,1.0012) (-0.097,1.0001) (-0.095,1.0015) (-0.093,0.9994) (-0.091,1.0008) (-0.089,0.9998) (-0.087,1.0013) (-0.085,1.0004)
(-0.083,1.0016) (-0.081,0.9996) (-0.079,1.0010) (-0.077,1.0002) (-0.075,0.9991) (-0.073,0.9985) (-0.071,0.9997) (-0.069,0.9989)
(-0.067,1.0006) (-0.065,0.9994) (-0.063,1.0011) (-0.061,1.0000) (-0.059,1.0015) (-0.057,0.9992) (-0.055,1.0007) (-0.053,0.9999)
(-0.051,1.0013) (-0.049,1.0003) (-0.047,1.0016) (-0.045,0.9997) (-0.043,1.0010) (-0.041,1.0002) (-0.039,0.9994) (-0.037,1.0012)
(-0.035,0.9987) (-0.033,0.9998) (-0.031,0.9984) (-0.029,0.9993) (-0.027,1.0003) (-0.025,0.9988) (-0.023,0.9999) (-0.021,0.9986)
(-0.019,1.0006) (-0.017,0.9993) (-0.015,1.0010) (-0.013,0.9997) (-0.011,1.0014) (-0.009,1.0004) (-0.007,0.9990) (-0.005,1.0009)
(-0.003,1.0001) (-0.001,1.0015) (0.001,0.9996) (0.003,1.0008) (0.005,0.9989) (0.007,1.0003) (0.009,0.9985) (0.011,0.9995)
(0.013,0.9983) (0.015,0.9991) (0.017,1.0000) (0.019,0.9987) (0.021,0.9996) (0.023,1.0004) (0.025,0.9990) (0.027,1.0007)
(0.029,0.9998) (0.031,1.0013) (0.033,0.9993) (0.035,1.0009) (0.037,1.0002) (0.039,1.0016) (0.041,0.9996) (0.043,1.0011)
(0.045,1.0005) (0.047,1.0014) (0.049,0.9994) (0.051,1.0003) (0.053,0.9988) (0.055,0.9998) (0.057,0.9985) (0.059,0.9993)
(0.061,0.9983) (0.063,1.0001) (0.065,0.9990) (0.067,1.0006) (0.069,0.9995) (0.071,1.0010) (0.073,1.0001) (0.075,1.0014)
(0.077,0.9997) (0.079,1.0008) (0.081,1.0003) (0.083,1.0016) (0.085,0.9996) (0.087,1.0012) (0.089,1.0005) (0.091,1.0015)
(0.093,0.9999) (0.095,1.0009) (0.097,0.9991) (0.099,1.0004) (0.101,0.9986) (0.103,0.9995) (0.105,0.9989) (0.107,1.0002)
(0.109,0.9992)
};
\addplot[gpts] coordinates {
(-0.1285,1.0008) (-0.1245,0.9997) (-0.1205,0.9988) (-0.1165,1.0005) (-0.1125,1.0013) (-0.1085,0.9994) (-0.1045,1.0010) (-0.1005,1.0003)
(-0.0965,0.9992) (-0.0925,1.0014) (-0.0885,1.0006) (-0.0845,0.9993) (-0.0805,1.0012) (-0.0765,0.9990) (-0.0725,1.0003) (-0.0685,0.9995)
(-0.0645,1.0014) (-0.0605,1.0006) (-0.0565,0.9997) (-0.0525,1.0010) (-0.0485,0.9991) (-0.0445,1.0007) (-0.0405,1.0015) (-0.0365,0.9996)
(-0.0325,0.9990) (-0.0285,1.0008) (-0.0245,0.9996) (-0.0205,0.9990) (-0.0165,1.0003) (-0.0125,0.9986) (-0.0085,0.9998) (-0.0045,1.0012)
(-0.0005,0.9992) (0.0035,1.0003) (0.0075,0.9994) (0.0115,1.0005) (0.0155,0.9997) (0.0195,0.9984) (0.0235,0.9993) (0.0275,1.0001)
(0.0315,0.9996) (0.0355,1.0013) (0.0395,1.0008) (0.0435,0.9999) (0.0475,1.0010) (0.0515,1.0016) (0.0555,1.0006) (0.0595,0.9996)
(0.0635,0.9987) (0.0675,0.9999) (0.0715,1.0004) (0.0755,0.9993) (0.0795,1.0014) (0.0835,1.0007) (0.0875,0.9998) (0.0915,1.0009)
(0.0955,1.0002) (0.0995,0.9994) (0.1035,1.0007) (0.1075,0.9996)
};
\addplot[model] coordinates {
(-0.1264,1.00055) (-0.1195,0.99978) (-0.1126,0.99976) (-0.1058,1.00009) (-0.0989,1.00034) (-0.0920,1.00063) (-0.0852,1.0007)
(-0.0774,1.00071) (-0.0705,0.99968) (-0.0636,1.00011) (-0.0568,1.00036) (-0.0499,1.00038) (-0.0430,1.00065) (-0.0362,1.00052)
(-0.0293,0.99926) (-0.0224,0.99943) (-0.0156,0.99968) (-0.0087,0.99988) (-0.0018,1.00005) (0.0050,0.99988) (0.0119,0.99933)
(0.0188,0.9991) (0.0256,0.99943) (0.0325,0.99976) (0.0394,1.00017) (0.0476,1.00057) (0.0545,1.00041) (0.0613,0.99935)
(0.0682,0.99988) (0.0751,0.99992) (0.0829,1.00038) (0.0897,1.00065) (0.0966,1.00041) (0.1035,0.99939)
};
\addplot[bpts] coordinates {
(-0.1264,1.00052) (-0.1195,0.99936) (-0.1126,0.99976) (-0.1058,1.00009) (-0.0989,1.0003) (-0.0911,1.00081) (-0.0842,1.00071)
(-0.0774,1.00088) (-0.0705,0.9994) (-0.0636,1.00012) (-0.0568,1.00012) (-0.0499,1.00067) (-0.0430,1.00085) (-0.0362,1.0005)
(-0.0293,0.99911) (-0.0224,0.99939) (-0.0156,0.99943) (-0.0087,0.99965) (-0.0018,1.00005) (0.0050,0.99992) (0.0119,0.99933)
(0.0188,0.99911) (0.0256,0.99947) (0.0325,0.99982) (0.0394,1.00034) (0.0476,1.00052) (0.0545,1.00052) (0.0613,0.99932)
(0.0682,0.99988) (0.0751,1.00023) (0.0829,1.00042) (0.0897,1.00057) (0.0966,1.00038) (0.1035,0.99936)
};
\plabel{WASP-69b 4.5 \textit{μ}m}
\end{axis}
% ---------------- Row 4 right
\begin{axis}[panel, rightcol, rowD, at={(432.8bp,-414.4bp)}, anchor=north west,
  xticklabels={–0.20,–0.15,–0.10,–0.05,0.00,0.05,0.10,0.15}, yticklabels={}]
\addplot[gpts] coordinates {
(-0.214,1.0003) (-0.212,0.9992) (-0.210,1.0010) (-0.208,0.9986) (-0.206,0.9999) (-0.204,1.0007) (-0.202,0.9990) (-0.200,1.0013)
(-0.198,0.9995) (-0.196,0.9985) (-0.194,1.0004) (-0.192,0.9989) (-0.190,1.0009) (-0.188,0.9997) (-0.186,0.9987) (-0.184,1.0012)
(-0.182,0.9993) (-0.180,1.0002) (-0.178,0.9988) (-0.176,1.0010) (-0.174,0.9998) (-0.172,1.0015) (-0.170,0.9991) (-0.168,1.0006)
(-0.166,0.9986) (-0.164,1.0001) (-0.162,0.9994) (-0.160,1.0012) (-0.158,0.9988) (-0.156,1.0004) (-0.154,0.9996) (-0.152,1.0009)
(-0.150,0.9985) (-0.148,1.0002) (-0.146,1.0014) (-0.144,0.9993) (-0.142,1.0008) (-0.140,0.9999) (-0.138,1.0016) (-0.136,0.9990)
(-0.134,1.0005) (-0.132,0.9996) (-0.130,1.0012) (-0.128,0.9987) (-0.126,1.0001) (-0.124,0.9993) (-0.122,1.0010) (-0.120,0.9984)
(-0.118,0.9998) (-0.116,1.0006) (-0.114,0.9989) (-0.112,1.0014) (-0.110,0.9995) (-0.108,1.0008) (-0.106,1.0001) (-0.104,1.0016)
(-0.102,0.9992) (-0.100,1.0011) (-0.098,0.9998) (-0.096,1.0006) (-0.094,0.9987) (-0.092,1.0003) (-0.090,0.9994) (-0.088,1.0013)
(-0.086,0.9990) (-0.084,1.0005) (-0.082,0.9997) (-0.080,1.0009) (-0.078,0.9986) (-0.076,1.0001) (-0.074,1.0012) (-0.072,0.9995)
(-0.070,1.0016) (-0.068,1.0004) (-0.066,1.0010) (-0.064,0.9993) (-0.062,1.0014) (-0.060,1.0000) (-0.058,1.0007) (-0.056,0.9989)
(-0.054,1.0003) (-0.052,1.0012) (-0.050,0.9995) (-0.048,1.0008) (-0.046,0.9988) (-0.044,1.0015) (-0.042,0.9999) (-0.040,1.0011)
(-0.038,0.9993) (-0.036,1.0005) (-0.034,1.0016) (-0.032,0.9997) (-0.030,1.0009) (-0.028,0.9990) (-0.026,1.0002) (-0.024,0.9985)
(-0.022,0.9996) (-0.020,1.0006) (-0.018,0.9987) (-0.016,0.9999) (-0.014,1.0010) (-0.012,0.9984) (-0.010,0.9993) (-0.008,1.0003)
(-0.006,0.9990) (-0.004,1.0012) (-0.002,0.9996) (0.000,1.0008) (0.002,0.9988) (0.004,1.0001) (0.006,1.0014) (0.008,0.9994)
(0.010,1.0006) (0.012,0.9986) (0.014,0.9999) (0.016,1.0010) (0.018,0.9991) (0.020,1.0003) (0.022,0.9985) (0.024,0.9997)
(0.026,1.0012) (0.028,0.9993) (0.030,1.0006) (0.032,1.0015) (0.034,0.9998) (0.036,1.0009) (0.038,0.9990) (0.040,1.0004)
(0.042,1.0016) (0.044,0.9995) (0.046,1.0011) (0.048,0.9987) (0.050,1.0002) (0.052,1.0013) (0.054,0.9996) (0.056,1.0007)
(0.058,0.9989) (0.060,1.0015) (0.062,1.0000) (0.064,1.0010) (0.066,0.9993) (0.068,1.0005) (0.070,1.0016) (0.072,0.9998)
(0.074,1.0012) (0.076,0.9988) (0.078,1.0004) (0.080,0.9995) (0.082,1.0009) (0.084,0.9985) (0.086,1.0001) (0.088,1.0014)
(0.090,0.9992) (0.092,1.0007) (0.094,0.9997) (0.096,1.0011) (0.098,0.9989) (0.100,1.0003) (0.102,1.0013) (0.104,0.9994)
(0.106,1.0008) (0.108,0.9999) (0.110,1.0005)
};
\addplot[gpts] coordinates {
(-0.2135,0.9996) (-0.2095,1.0008) (-0.2055,0.9989) (-0.2015,1.0004) (-0.1975,0.9992) (-0.1935,1.0011) (-0.1895,0.9986) (-0.1855,1.0002)
(-0.1815,0.9995) (-0.1775,1.0014) (-0.1735,0.9990) (-0.1695,1.0005) (-0.1655,0.9997) (-0.1615,0.9985) (-0.1575,1.0008) (-0.1535,1.0001)
(-0.1495,0.9993) (-0.1455,1.0011) (-0.1415,0.9988) (-0.1375,1.0004) (-0.1335,1.0013) (-0.1295,0.9995) (-0.1255,1.0007) (-0.1215,0.9991)
(-0.1175,1.0002) (-0.1135,0.9985) (-0.1095,1.0010) (-0.1055,0.9998) (-0.1015,1.0006) (-0.0975,0.9991) (-0.0935,1.0015) (-0.0895,1.0002)
(-0.0855,0.9994) (-0.0815,1.0008) (-0.0775,1.0013) (-0.0735,0.9997) (-0.0695,1.0010) (-0.0655,1.0003) (-0.0615,0.9991) (-0.0575,1.0011)
(-0.0535,0.9996) (-0.0495,1.0014) (-0.0455,1.0004) (-0.0415,0.9990) (-0.0375,1.0009) (-0.0335,1.0000) (-0.0295,1.0013) (-0.0255,0.9993)
(-0.0215,1.0003) (-0.0175,0.9990) (-0.0135,1.0006) (-0.0095,0.9987) (-0.0055,1.0000) (-0.0015,1.0011) (0.0025,0.9995) (0.0065,1.0004)
(0.0105,0.9991) (0.0145,1.0008) (0.0185,0.9987) (0.0225,1.0001) (0.0265,0.9994) (0.0305,1.0009) (0.0345,1.0003) (0.0385,0.9995)
(0.0425,1.0012) (0.0465,1.0002) (0.0505,0.9992) (0.0545,1.0011) (0.0585,1.0004) (0.0625,0.9996) (0.0665,1.0013) (0.0705,1.0007)
(0.0745,0.9993) (0.0785,1.0015) (0.0825,1.0002) (0.0865,0.9991) (0.0905,1.0010) (0.0945,1.0004) (0.0985,0.9995) (0.1025,1.0009)
(0.1065,0.9988) (0.1095,1.0002)
};
\addplot[model] coordinates {
(-0.2094,0.99994) (-0.2028,0.99964) (-0.1956,0.99908) (-0.1884,0.99901) (-0.1815,0.99885) (-0.1743,0.99983) (-0.1671,0.99949)
(-0.1605,0.99953) (-0.1536,0.99916) (-0.1464,0.99941) (-0.1399,1.00016) (-0.1327,0.99988) (-0.1258,0.99994) (-0.1192,0.99964)
(-0.1121,0.99966) (-0.1055,1.00036) (-0.0983,1.00044) (-0.0914,1.00011) (-0.0842,0.99992) (-0.0777,0.99991) (-0.0711,1.00046)
(-0.0639,1.00069) (-0.0570,1.00027) (-0.0504,1.00009) (-0.0432,0.99999) (-0.0360,1.00067) (-0.0292,1.00026) (-0.0226,0.99994)
(-0.0155,0.99966) (-0.0089,0.99953) (-0.0017,1.00007) (0.0052,0.99993) (0.0124,0.99976) (0.0190,0.99959) (0.0262,0.99972)
(0.0327,1.00069) (0.0396,1.00036) (0.0468,1.00034) (0.0540,1.00027) (0.0606,1.00049) (0.0681,1.0009) (0.0747,1.00082)
(0.0819,1.00063) (0.0884,1.00032) (0.0953,1.00032) (0.1025,1.00036)
};
\addplot[bpts] coordinates {
(-0.2094,1.00007) (-0.2021,0.99983) (-0.1956,0.99916) (-0.1884,0.99928) (-0.1815,0.9992) (-0.1743,1.00013) (-0.1671,0.99984)
(-0.1605,0.9998) (-0.1536,0.99941) (-0.1471,0.9999) (-0.1399,1.00023) (-0.1327,1.00023) (-0.1261,0.99974) (-0.1192,0.99924)
(-0.1121,0.99891) (-0.1055,1.00027) (-0.0983,1.00016) (-0.0914,0.9999) (-0.0842,0.99994) (-0.0777,0.99962) (-0.0711,1.00046)
(-0.0639,1.00082) (-0.0570,1.00053) (-0.0498,1.00036) (-0.0432,1.0004) (-0.0360,1.00074) (-0.0292,1.00012) (-0.0226,1.00007)
(-0.0155,0.99949) (-0.0089,0.99932) (-0.0017,1.00005) (0.0052,1.00016) (0.0124,0.99988) (0.0190,0.99958) (0.0265,0.99972)
(0.0327,1.00069) (0.0396,1.0003) (0.0468,1.00069) (0.0540,0.99991) (0.0606,1.00005) (0.0681,1.00046) (0.0747,1.00108)
(0.0819,1.00048) (0.0884,1.00009) (0.0953,0.99995) (0.1025,0.99991)
};
\plabel{WASP-69b 4.5 \textit{μ}m}
\end{axis}
% ---------------- shared labels
\node[font=\fontsize{12}{14}\selectfont, anchor=base] at (432.8bp,-573bp) {Time from Predicted Eclipse Center [days]};
\node[font=\fontsize{12}{14}\selectfont, rotate=90, anchor=base] at (13.5bp,-277.8bp) {Relative Flux};
\pgfresetboundingbox
\useasboundingbox (0,0) rectangle (830bp,-578bp);
\end{tikzpicture}
\end{document}
